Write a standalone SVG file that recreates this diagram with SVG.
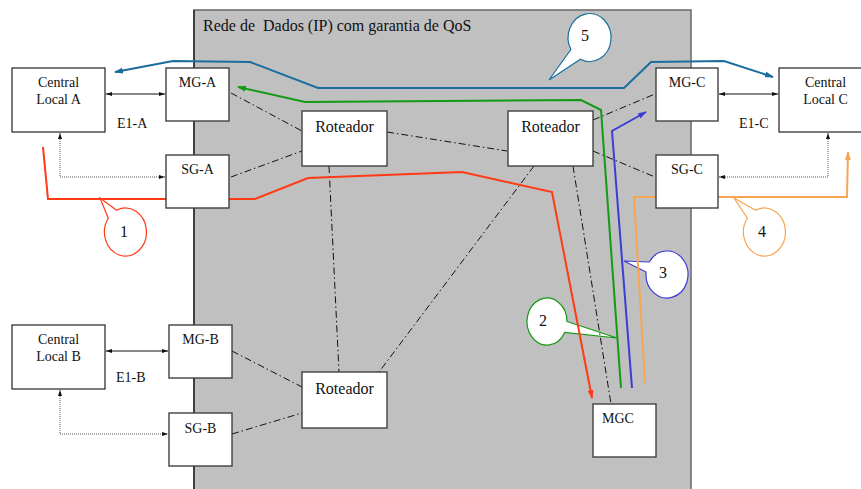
<svg xmlns="http://www.w3.org/2000/svg" width="861" height="489" viewBox="0 0 861 489">
<style>
.t{font-family:"Liberation Serif","Times New Roman",serif;font-size:14px;fill:#111}
.tc{text-anchor:middle}
.r{font-size:16px}
.box{fill:#fff;stroke:#404040;stroke-width:1.4}
.cbox{fill:#fff;stroke:#222;stroke-width:1.2}
.dd{fill:none;stroke:#111;stroke-width:1;stroke-dasharray:7 3 1.5 3}
.dot{fill:none;stroke:#555;stroke-width:1;stroke-dasharray:1 1}
.e1{fill:none;stroke:#111;stroke-width:1}
.p{fill:none;stroke-width:2;stroke-linejoin:miter}
.co{fill:#fff;stroke-width:1.2}
</style>
<defs>
<marker id="ak" viewBox="0 0 6 4" refX="6" refY="2" markerWidth="6" markerHeight="4" markerUnits="userSpaceOnUse" orient="auto-start-reverse"><path d="M0,0 L6,2 L0,4 z" fill="#111"/></marker>
<marker id="abl" viewBox="0 0 9 6" refX="8" refY="3" markerWidth="9" markerHeight="6" markerUnits="userSpaceOnUse" orient="auto-start-reverse"><path d="M0,0 L9,3 L0,6 z" fill="#1a6e9e"/></marker>
<marker id="agr" viewBox="0 0 9 6" refX="8" refY="3" markerWidth="9" markerHeight="6" markerUnits="userSpaceOnUse" orient="auto"><path d="M0,0 L9,3 L0,6 z" fill="#149a14"/></marker>
<marker id="ard" viewBox="0 0 9 6" refX="8" refY="3" markerWidth="9" markerHeight="6" markerUnits="userSpaceOnUse" orient="auto"><path d="M0,0 L9,3 L0,6 z" fill="#ff3a14"/></marker>
<marker id="avi" viewBox="0 0 9 6" refX="8" refY="3" markerWidth="9" markerHeight="6" markerUnits="userSpaceOnUse" orient="auto"><path d="M0,0 L9,3 L0,6 z" fill="#3d3dd6"/></marker>
<marker id="aor" viewBox="0 0 9 6" refX="8" refY="3" markerWidth="9" markerHeight="6" markerUnits="userSpaceOnUse" orient="auto"><path d="M0,0 L9,3 L0,6 z" fill="#f8a552"/></marker>
</defs>

<g id="network">
<rect x="194" y="10" width="497" height="490" fill="#c0c0c0" stroke="#6e6e6e" stroke-width="1.6"/>
<line x1="194" y1="10" x2="194" y2="489" stroke="#111" stroke-width="1.2"/>
<text class="t r" x="203" y="31">Rede de&#160; Dados (IP) com garantia de QoS</text>
</g>

<g id="callouts">
<g id="callout-1"><path class="co" stroke="#ff3a14" d="M108.3,218.2 L100,198 L116.6,210.3 A21,24 0 1 1 108.3,218.2 Z"/><text class="t r tc" x="124" y="237">1</text></g>
<g id="callout-2"><path class="co" stroke="#149a14" d="M567,321.5 L617,338 L564.7,332.5 A20,23.5 0 1 1 567,321.5 Z"/><text class="t r tc" x="543" y="326">2</text></g>
<g id="callout-3"><path class="co" stroke="#3d3dd6" d="M649.2,262 L624,261 L646.1,272 A21,23.5 0 1 0 649.2,262 Z"/><text class="t r tc" x="663" y="278">3</text></g>
<g id="callout-4"><path class="co" stroke="#f8a552" d="M747.3,218.2 L734,198 L755.6,210.3 A21,24 0 1 1 747.3,218.2 Z"/><text class="t r tc" x="762" y="237">4</text></g>
<g id="callout-5"><path class="co" stroke="#1a6e9e" d="M570.9,49.5 L549,80 L580.4,59.3 A21.5,24 0 1 0 570.9,49.5 Z"/><text class="t r tc" x="585" y="41">5</text></g>
</g>

<g id="connectors">
<line class="e1" x1="106" y1="94" x2="165" y2="94" marker-start="url(#ak)" marker-end="url(#ak)"/>
<line class="e1" x1="106" y1="351" x2="168" y2="351" marker-start="url(#ak)" marker-end="url(#ak)"/>
<line class="e1" x1="719" y1="94" x2="778" y2="94" marker-start="url(#ak)" marker-end="url(#ak)"/>
<path class="dot" d="M60,133 L60,177 L165,177" marker-start="url(#ak)" marker-end="url(#ak)"/>
<path class="dot" d="M60,390 L60,434 L168,434" marker-start="url(#ak)" marker-end="url(#ak)"/>
<path class="dot" d="M828,133 L828,177 L719,177" marker-start="url(#ak)" marker-end="url(#ak)"/>

<line class="dd" x1="231" y1="93" x2="302" y2="131"/>
<line class="dd" x1="231" y1="177" x2="302" y2="151"/>
<line class="dd" x1="387" y1="132" x2="507" y2="151"/>
<line class="dd" x1="329" y1="166" x2="339" y2="372"/>
<line class="dd" x1="534" y1="166" x2="379" y2="372"/>
<line class="dd" x1="593" y1="120" x2="655" y2="94"/>
<line class="dd" x1="593" y1="151" x2="655" y2="177"/>
<line class="dd" x1="573" y1="166" x2="611" y2="404"/>
<line class="dd" x1="232" y1="351" x2="302" y2="387"/>
<line class="dd" x1="232" y1="434" x2="302" y2="413"/>

<path class="p" stroke="#1a6e9e" d="M115,72 L173,61 L250,62 L318,88 L624,88 L651,62 L724,61 L773,77" marker-start="url(#abl)" marker-end="url(#abl)"/>
<path class="p" stroke="#149a14" d="M621,388 L601,110 L581,100 L305,102 L238,87" marker-end="url(#agr)"/>
<path class="p" stroke="#ff3a14" d="M43,147 L48,199 L255,199 L308,178 L462,172 L552,192 L592,398" marker-end="url(#ard)"/>
<path class="p" stroke="#3d3dd6" d="M632,388 L612,131 L646,112" marker-end="url(#avi)"/>
<path class="p" stroke="#f8a552" d="M645,383 L634,197 L847,197 L848,152" marker-end="url(#aor)"/>
</g>

<g id="central-a"><rect class="cbox" x="12" y="68" width="93" height="64"/><text class="t tc" x="58.5" y="87">Central</text><text class="t tc" x="58.5" y="104">Local A</text></g>
<g id="central-b"><rect class="cbox" x="12" y="325" width="93" height="64"/><text class="t tc" x="58.5" y="344">Central</text><text class="t tc" x="58.5" y="361">Local B</text></g>
<g id="central-c"><rect class="cbox" x="779" y="68" width="93" height="64"/><text class="t tc" x="825.5" y="87">Central</text><text class="t tc" x="825.5" y="104">Local C</text></g>

<g id="mg-a"><rect class="box" x="166" y="68" width="63" height="53"/><text class="t tc" x="197.5" y="87">MG-A</text></g>
<g id="sg-a"><rect class="box" x="166" y="155" width="63" height="53"/><text class="t tc" x="197.5" y="174">SG-A</text></g>
<g id="mg-b"><rect class="box" x="169" y="325" width="63" height="53"/><text class="t tc" x="200.5" y="344">MG-B</text></g>
<g id="sg-b"><rect class="box" x="169" y="413" width="63" height="53"/><text class="t tc" x="200.5" y="433">SG-B</text></g>
<g id="mg-c"><rect class="box" x="656" y="68" width="62" height="53"/><text class="t tc" x="687" y="87">MG-C</text></g>
<g id="sg-c"><rect class="box" x="656" y="155" width="62" height="53"/><text class="t tc" x="687" y="174">SG-C</text></g>

<g id="roteador-1"><rect class="box" x="302" y="111" width="85" height="55"/><text class="t r tc" x="344.5" y="132">Roteador</text></g>
<g id="roteador-2"><rect class="box" x="508" y="111" width="85" height="55"/><text class="t r tc" x="550.5" y="132">Roteador</text></g>
<g id="roteador-3"><rect class="box" x="302" y="372" width="85" height="56"/><text class="t r tc" x="344.5" y="394">Roteador</text></g>
<g id="mgc"><rect class="box" x="593" y="404" width="63" height="53" stroke="#111"/><text class="t" x="602" y="423">MGC</text></g>

<g id="labels">
<text class="t" x="117" y="128">E1-A</text>
<text class="t" x="116" y="382">E1-B</text>
<text class="t" x="739" y="128">E1-C</text>
</g>
</svg>
